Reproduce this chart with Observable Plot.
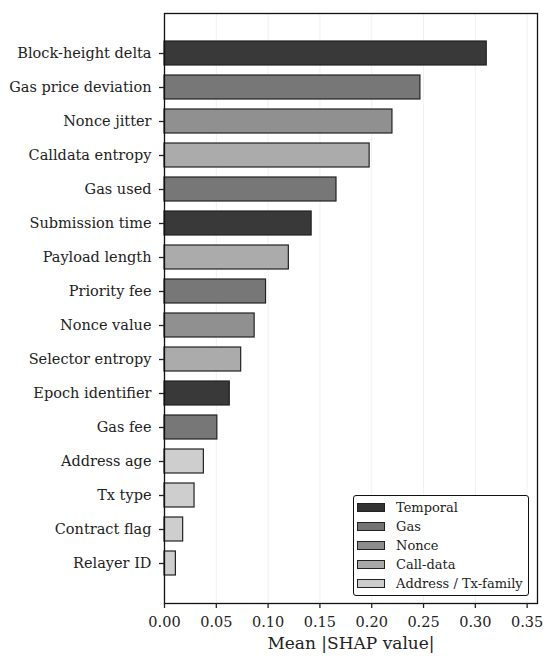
<!DOCTYPE html>
<html>
<head>
<meta charset="utf-8">
<script src="https://cdn.jsdelivr.net/npm/d3@7"></script>
<script src="https://cdn.jsdelivr.net/npm/@observablehq/plot@0.6"></script>
<style>
  html, body { margin: 0; padding: 0; background: white; }
  #wrap { position: relative; width: 550px; height: 663px; font-family: "DejaVu Serif", serif; }
  #legend { position: absolute; left: 353px; top: 495px; width: 176px; height: 101px;
    border: 1.3px solid #111; border-radius: 3px; background: rgba(255,255,255,0.9); box-sizing: border-box; }
  .row { position: absolute; left: 0; height: 19px; display: flex; align-items: center; font-size: 13px; color: #222; }
  .sw { width: 28px; height: 9px; border: 1.3px solid #222; margin-left: 3px; margin-right: 11px; box-sizing: border-box; }
</style>
</head>
<body>
<div id="wrap"></div>
<script>
const features = ["Block-height delta","Gas price deviation","Nonce jitter","Calldata entropy","Gas used","Submission time","Payload length","Priority fee","Nonce value","Selector entropy","Epoch identifier","Gas fee","Address age","Tx type","Contract flag","Relayer ID"];
const values = [0.311,0.247,0.220,0.198,0.166,0.142,0.120,0.098,0.087,0.074,0.063,0.051,0.038,0.029,0.018,0.011];
const groups = ["Temporal","Gas","Nonce","Call-data","Gas","Temporal","Call-data","Gas","Nonce","Call-data","Temporal","Gas","Address / Tx-family","Address / Tx-family","Address / Tx-family","Address / Tx-family"];
const groupNames = ["Temporal","Gas","Nonce","Call-data","Address / Tx-family"];
const groupColors = ["#333333","#737373","#8c8c8c","#a8a8a8","#cccccc"];
const xTicks = [0,0.05,0.10,0.15,0.20,0.25,0.30,0.35];
const xLabel = "Mean |SHAP value|";

const data = features.map((f, i) => ({feature: f, value: values[i], group: groups[i]}));

const chart = Plot.plot({
  width: 550, height: 663,
  marginTop: 13, marginBottom: 60, marginLeft: 164, marginRight: 13,
  style: {fontFamily: "DejaVu Serif", fontSize: "14.5px", color: "#222", background: "white"},
  x: {domain: [0, 0.36]},
  y: {domain: features, paddingInner: 0.28, paddingOuter: 0.79},
  color: {domain: groupNames, range: groupColors},
  marks: [
    Plot.gridX(xTicks, {stroke: "#000", strokeOpacity: 0.06, strokeWidth: 1}),
    Plot.barX(data, {x: "value", y: "feature", fill: "group", fillOpacity: 0.97, stroke: "#222", strokeWidth: 1.2}),
    Plot.frame({stroke: "#111", strokeWidth: 1.3}),
    Plot.axisX({ticks: xTicks, tickSize: 5, tickPadding: 8, tickFormat: d => d.toFixed(2), label: null, fontSize: 14.5, strokeWidth: 1.3}),
    Plot.axisY({tickSize: 5, tickPadding: 8, label: null, fontSize: 14.5, strokeWidth: 1.3}),
    Plot.text([xLabel], {text: d => d, frameAnchor: "bottom", dy: 45, fontSize: 17, fill: "#222"})
  ]
});

const wrap = document.getElementById("wrap");
wrap.appendChild(chart);

const legend = document.createElement("div");
legend.id = "legend";
groupNames.forEach((g, i) => {
  const row = document.createElement("div");
  row.className = "row";
  row.style.top = (2 + i * 19.1) + "px";
  const sw = document.createElement("div");
  sw.className = "sw";
  sw.style.background = groupColors[i];
  const t = document.createElement("span");
  t.textContent = g;
  row.appendChild(sw);
  row.appendChild(t);
  legend.appendChild(row);
});
wrap.appendChild(legend);
</script>
</body>
</html>
